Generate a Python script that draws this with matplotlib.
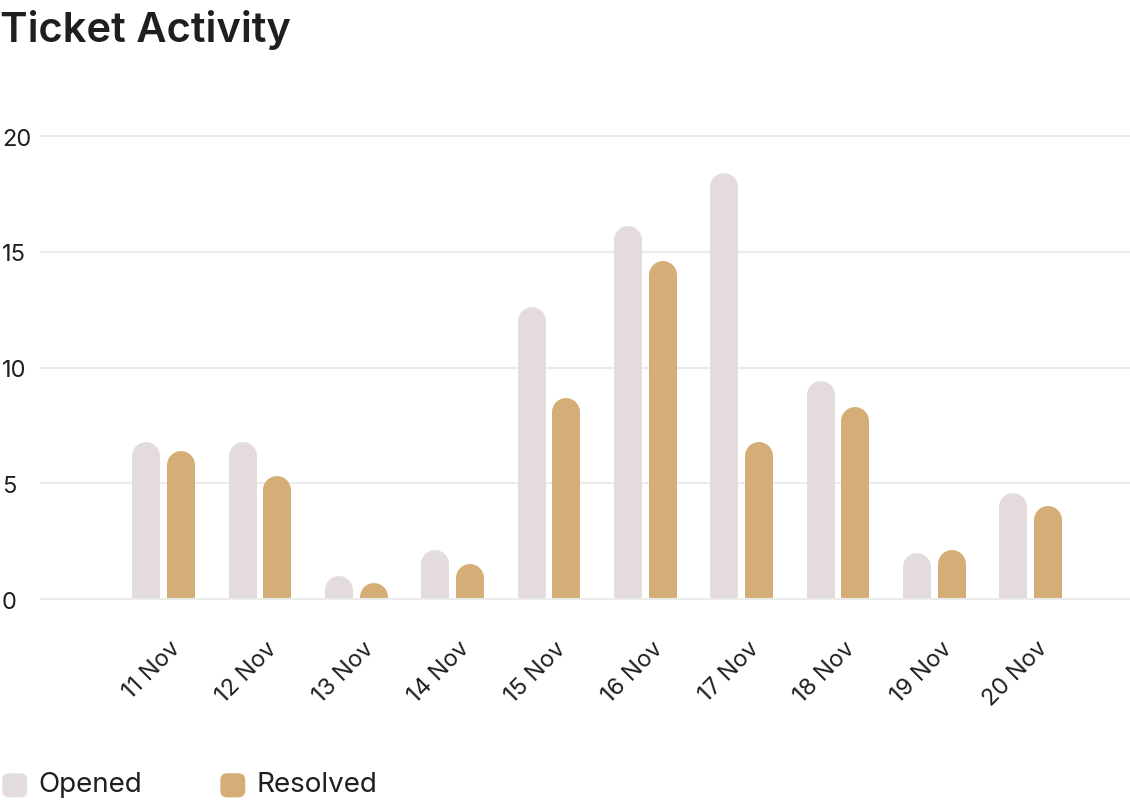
import matplotlib
matplotlib.use("Agg")
import matplotlib.pyplot as plt
from matplotlib.patches import FancyBboxPatch, Rectangle
from matplotlib.transforms import ScaledTranslation

days = ["11 Nov", "12 Nov", "13 Nov", "14 Nov", "15 Nov",
        "16 Nov", "17 Nov", "18 Nov", "19 Nov", "20 Nov"]
opened = [6.8, 6.8, 1.0, 2.1, 12.6, 16.1, 18.4, 9.4, 2.0, 4.6]
resolved = [6.4, 5.3, 0.7, 1.5, 8.7, 14.6, 6.8, 8.3, 2.1, 4.0]

OPEN_C = "#E4DCDC"
RES_C = "#D4AE76"
GRID_C = "#EBEBEB"
TEXT_C = "#1F1F1F"

plt.rcParams["font.family"] = ["Inter", "DejaVu Sans"]

fig = plt.figure(figsize=(11.3, 8.04), dpi=100)
ax = fig.add_axes([0.035, 0.2307, 0.965, 0.6275])
ymin, ymax = -0.8, 21
ax.set_xlim(-1.29, 10.03)
ax.set_ylim(ymin, ymax)

# pixel -> data conversion for the round caps
ax_h_px = 0.6275 * 804
px_per_unit = ax_h_px / (ymax - ymin)
bar_px = 28
lw_pt = bar_px * 72 / 100
cap = (bar_px / 2) / px_per_unit

for y in [5, 10, 15, 20]:
    ax.axhline(y, color=GRID_C, linewidth=1.5, zorder=0)

off = 0.18
for i, (o, r) in enumerate(zip(opened, resolved)):
    for x, v, c in [(i - off, o, OPEN_C), (i + off, r, RES_C)]:
        ax.plot([x, x], [0, max(v - cap, 0)], color=c, linewidth=lw_pt,
                solid_capstyle="round", zorder=2)

# hide bottom caps
ax.add_patch(Rectangle((-2, ymin - 1), 20, 1 + (0 - ymin), facecolor="white",
                       edgecolor="none", zorder=3))
ax.axhline(0, color=GRID_C, linewidth=1.5, zorder=4)

for s in ax.spines.values():
    s.set_visible(False)
ax.set_yticks([0, 5, 10, 15, 20])
ax.tick_params(axis="y", length=0, pad=27, labelsize=17, labelcolor=TEXT_C)
for lbl in ax.get_yticklabels():
    lbl.set_horizontalalignment("left")
ax.set_xticks(range(len(days)))
ax.set_xticklabels(days, rotation=45, ha="right", rotation_mode="anchor",
                   fontsize=17, color=TEXT_C)
ax.tick_params(axis="x", length=0, pad=14)
shift = ScaledTranslation(6 / 100, 0, fig.dpi_scale_trans)
for lbl in ax.get_xticklabels():
    lbl.set_transform(lbl.get_transform() + shift)

fig.text(0.0, 0.963, "Ticket Activity", fontsize=30, fontweight="semibold",
         color=TEXT_C, va="center", ha="left")

# legend
for x0, c, label in [(0.0, OPEN_C, "Opened"), (0.193, RES_C, "Resolved")]:
    fig.patches.append(FancyBboxPatch((x0 + 0.002, 0.007), 0.022, 0.030,
                                      boxstyle="round,pad=0,rounding_size=0.006",
                                      transform=fig.transFigure, facecolor=c,
                                      edgecolor="none", mutation_aspect=1.4))
    fig.text(x0 + 0.034, 0.024, label, fontsize=20, color=TEXT_C,
             va="center", ha="left")

fig.savefig("out.png", dpi=100, facecolor="white")
